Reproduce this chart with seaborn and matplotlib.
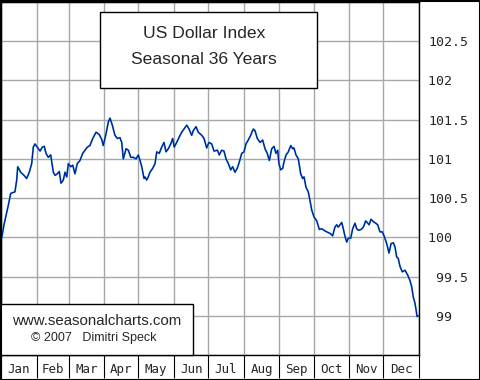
import numpy as np
import pandas as pd
import matplotlib
matplotlib.use("Agg")
import matplotlib.pyplot as plt
from matplotlib.patches import Rectangle
import seaborn as sns

# Seasonal pattern, day of year vs. index level
days = [0.6, 2.6, 4.4, 6.4, 8.5, 12.2, 13.7, 14.6, 17.2, 20.1, 22.4, 24.7, 26.8, 28.2,
        29.7, 31.7, 34.1, 36.1, 37.8, 39.3, 41.3, 43.4, 45.7, 47.2, 49.2, 50.9, 52.4,
        54.4, 55.9, 57.4, 58.8, 60.9, 62.6, 64.6, 66.6, 69.0, 71.3, 73.3, 75.4, 77.7,
        80.1, 83.0, 85.8, 87.9, 89.3, 91.7, 93.7, 95.2, 97.2, 99.5, 101.6, 103.9, 105.4,
        106.8, 109.2, 111.2, 113.3, 115.5, 117.9, 119.9, 121.4, 122.9, 124.9, 125.7,
        127.2, 128.6, 130.1, 132.5, 134.5, 136.0, 138.2, 140.3, 142.3, 144.1, 146.1,
        148.2, 149.9, 151.3, 153.4, 155.7, 157.8, 159.8, 162.2, 164.2, 166.5, 167.9,
        170.3, 172.3, 175.3, 177.3, 179.6, 181.6, 184.0, 186.0, 189.0, 190.6, 192.7,
        194.7, 196.5, 198.5, 200.6, 202.3, 204.3, 206.3, 208.1, 210.2, 212.2, 213.9,
        215.9, 218.0, 220.3, 221.8, 223.8, 226.2, 228.5, 230.5, 232.5, 234.3, 236.4,
        238.4, 240.1, 241.6, 242.7, 244.2, 246.0, 247.1, 248.9, 250.9, 253.0, 254.7,
        255.8, 257.6, 259.6, 261.7, 263.4, 264.6, 266.3, 268.3, 269.8, 271.3, 273.3,
        275.7, 278.0, 280.0, 282.0, 284.4, 287.3, 289.6, 291.6, 293.1, 294.5, 297.5,
        298.9, 300.4, 301.9, 303.3, 305.4, 307.1, 309.1, 310.6, 312.0, 314.4, 316.4,
        318.5, 320.3, 321.4, 323.1, 325.1, 327.2, 328.9, 330.9, 333.0, 334.7, 336.8,
        338.8, 340.6, 342.6, 344.0, 345.5, 346.9, 348.4, 350.4, 352.8, 355.1, 357.1,
        358.6, 360.0, 361.5, 362.4, 363.3, 364.4]
index_vals = [99.99, 100.16, 100.28, 100.41, 100.56, 100.58, 100.73, 100.90, 100.83,
              100.79, 100.75, 100.83, 100.94, 101.15, 101.19, 101.15, 101.10, 101.15,
              101.16, 101.07, 101.02, 101.05, 100.83, 100.79, 100.81, 100.84, 100.69,
              100.73, 100.83, 100.77, 100.94, 100.90, 100.92, 100.81, 100.94, 100.98,
              101.07, 101.11, 101.15, 101.17, 101.26, 101.34, 101.31, 101.25, 101.17,
              101.32, 101.47, 101.52, 101.43, 101.30, 101.26, 101.27, 101.21, 101.00,
              101.13, 101.11, 101.02, 101.02, 101.00, 101.05, 100.98, 100.90, 100.75,
              100.77, 100.73, 100.77, 100.83, 100.88, 100.94, 101.09, 101.07, 101.15,
              101.21, 101.09, 101.13, 101.19, 101.26, 101.15, 101.21, 101.28, 101.34,
              101.38, 101.43, 101.38, 101.30, 101.36, 101.41, 101.34, 101.30, 101.26,
              101.14, 101.21, 101.19, 101.10, 101.11, 101.05, 101.11, 101.10, 101.00,
              100.94, 100.86, 100.90, 100.83, 100.88, 100.96, 101.07, 101.09, 101.19,
              101.24, 101.30, 101.38, 101.36, 101.26, 101.21, 101.24, 101.13, 101.07,
              100.98, 101.13, 101.16, 101.07, 101.11, 100.94, 100.86, 100.88, 100.96,
              101.05, 101.09, 101.17, 101.13, 101.14, 101.05, 101.00, 100.81, 100.75,
              100.77, 100.64, 100.58, 100.47, 100.35, 100.26, 100.21, 100.10, 100.11,
              100.09, 100.07, 100.05, 100.02, 100.13, 100.16, 100.13, 100.19, 100.11,
              100.01, 99.94, 99.99, 99.99, 100.11, 100.18, 100.11, 100.09, 100.10,
              100.13, 100.21, 100.18, 100.16, 100.23, 100.20, 100.18, 100.16, 100.07,
              100.07, 100.01, 99.92, 99.80, 99.92, 99.93, 99.88, 99.75, 99.73, 99.63,
              99.56, 99.58, 99.52, 99.45, 99.37, 99.24, 99.16, 99.08, 98.99, 99.00]

months = ["Jan", "Feb", "Mar", "Apr", "May", "Jun", "Jul", "Aug", "Sep", "Oct", "Nov", "Dec"]
month_starts = [0, 31, 59, 90, 120, 151, 181, 212, 243, 273, 304, 334, 365]
y_ticks = [98.5, 99, 99.5, 100, 100.5, 101, 101.5, 102, 102.5, 103]
y_labels = ["", " 99  ", " 99.5", "100  ", "100.5", "101  ", "101.5", "102  ", "102.5", ""]

df = pd.DataFrame({"day": days, "value": index_vals})

sns.set_style("white")
W, H = 480, 380
fig = plt.figure(figsize=(W / 100, H / 100), dpi=100)
ax = fig.add_axes([1 / W, 25 / H, 418 / W, 353 / H])

sns.lineplot(data=df, x="day", y="value", ax=ax, color="#1ea5b9", lw=1.3, zorder=3)
sns.lineplot(data=df, x="day", y="value", ax=ax, color="#0a10a0", lw=0.8, zorder=4)

ax.set_xlim(0, 365)
ax.set_ylim(98.5, 103)
ax.set_xlabel("")
ax.set_ylabel("")

# grid
ax.set_xticks(month_starts)
ax.set_xticklabels([])
mids = [(a + b) / 2 for a, b in zip(month_starts[:-1], month_starts[1:])]
ax.set_xticks(mids, minor=True)
ax.set_xticklabels(months, minor=True, family="DejaVu Sans Mono", fontsize=9)
ax.tick_params(axis="x", which="major", direction="out", length=16.6, width=0.8,
               color="black", bottom=True)
ax.tick_params(axis="x", which="minor", length=0, pad=5.5)
ax.set_yticks(y_ticks)
ax.set_yticklabels(y_labels, family="DejaVu Sans Mono", fontsize=9.5)
ax.yaxis.tick_right()
ax.tick_params(axis="y", length=0, pad=6.5)
ax.grid(True, which="major", color="#a8a8a8", lw=1.0)
for s in ax.spines.values():
    s.set_color("black")
    s.set_linewidth(1.0)


def px(x, y, w, h):
    return (x / W, (H - y - h) / H, w / W, h / H)


# title box
x0, y0, w0, h0 = px(100, 12, 217, 76)
fig.patches.append(Rectangle((x0, y0), w0, h0, transform=fig.transFigure,
                             facecolor="white", edgecolor="black", lw=1.0, zorder=5))
fig.text(204 / W, 1 - 34 / H, "US Dollar Index", ha="center", va="center",
         family="Liberation Sans", fontsize=12.6, zorder=6)
fig.text(204 / W, 1 - 59 / H, "Seasonal 36 Years", ha="center", va="center",
         family="Liberation Sans", fontsize=12.6, zorder=6)

# copyright box
x1, y1, w1, h1 = px(0, 304, 193, 51)
fig.patches.append(Rectangle((x1, y1), w1, h1, transform=fig.transFigure,
                             facecolor="white", edgecolor="black", lw=1.0, zorder=5))
fig.text(97 / W, 1 - 321 / H, "www.seasonalcharts.com", ha="center", va="center",
         family="Liberation Sans", fontsize=10.8, zorder=6)
fig.text(94 / W, 1 - 338 / H, "\u00a9 2007   Dimitri Speck", ha="center", va="center",
         family="Liberation Sans", fontsize=9, zorder=6)

# outer frame
fig.patches.append(Rectangle((0.5 / W, 0.5 / H), 479 / W, 379 / H, transform=fig.transFigure,
                             facecolor="none", edgecolor="black", lw=1.5, zorder=7))

fig.savefig("out.png", dpi=100)
